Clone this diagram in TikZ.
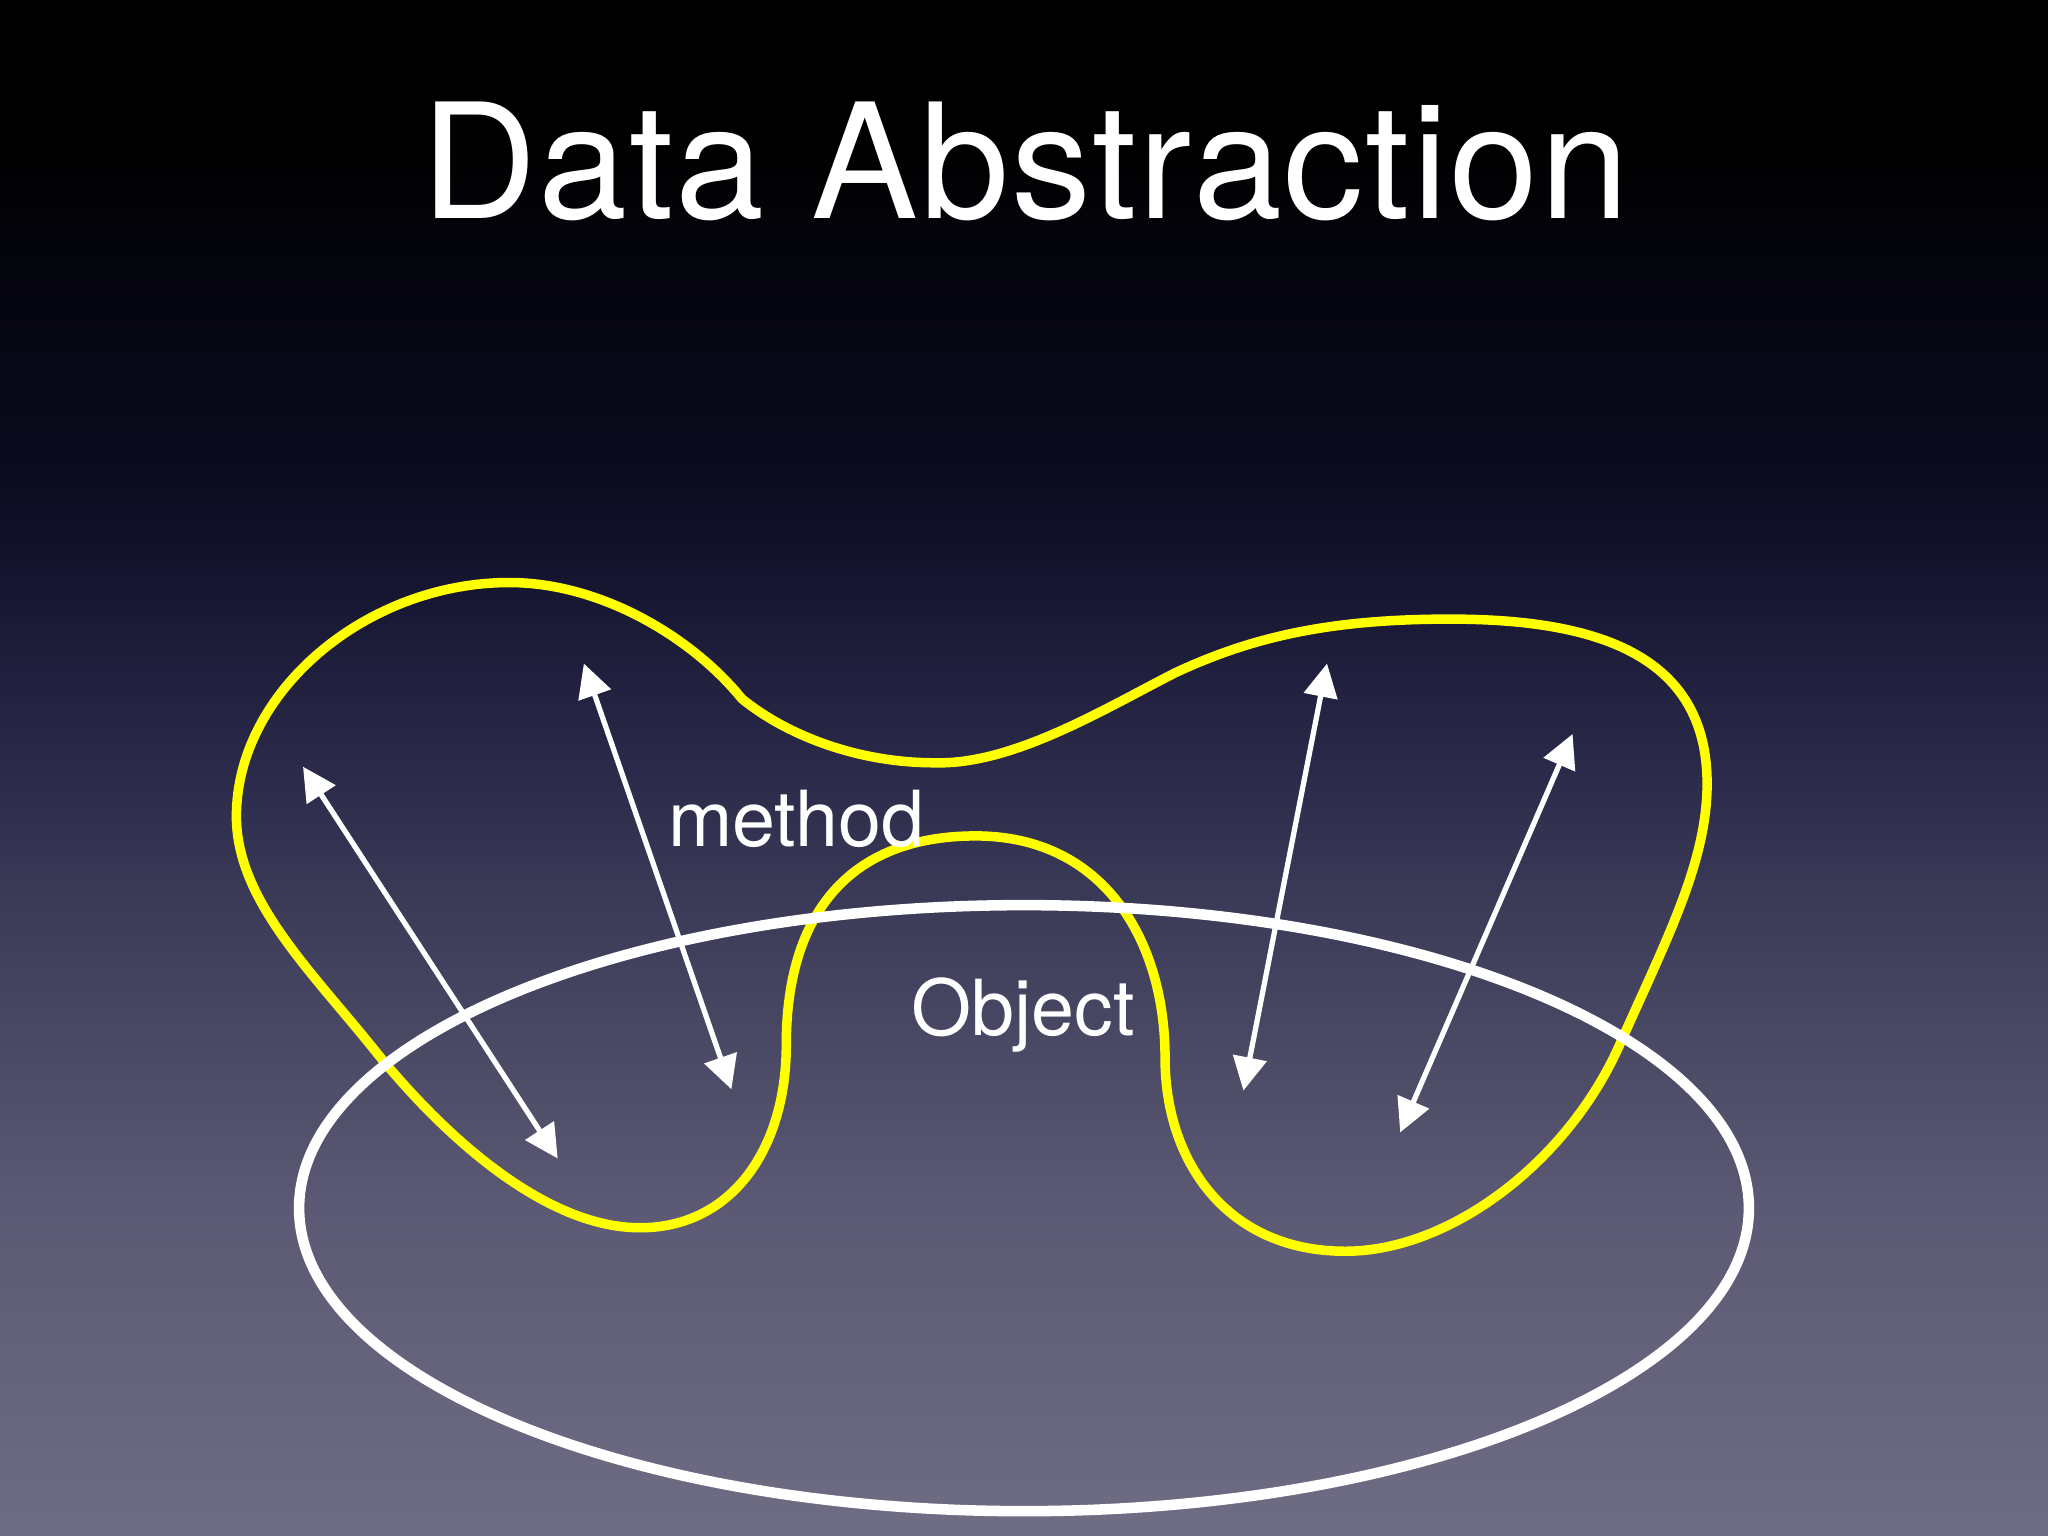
\documentclass[tikz,border=0pt]{standalone}
\usepackage{fontspec}
\setmainfont{TeX Gyre Heros}
\usetikzlibrary{arrows.meta}
\definecolor{bgA}{HTML}{6F6D84}
\definecolor{bgB}{HTML}{5C5A74}
\definecolor{bgC}{HTML}{43425E}
\definecolor{bgD}{HTML}{2B2A4A}
\definecolor{bgE}{HTML}{1A1936}
\definecolor{bgF}{HTML}{0B0A1E}
\definecolor{bgG}{HTML}{05050E}
\definecolor{bgH}{HTML}{000000}
\definecolor{blobyellow}{HTML}{FFFF00}
\pgfdeclareverticalshading{slidebg}{100bp}{color(0bp)=(bgA); color(25bp)=(bgA); color(35.29bp)=(bgB); color(43.42bp)=(bgC); color(49.93bp)=(bgD); color(54.82bp)=(bgE); color(59.70bp)=(bgF); color(66.21bp)=(bgG); color(70.5bp)=(bgH); color(75bp)=(bgH); color(100bp)=(bgH)}
\tikzset{
  titletext/.style={text=white, inner sep=0pt, font=\fontsize{45.5}{50}\selectfont\addfontfeature{LetterSpace=1.2}},
  labeltext/.style={text=white, inner sep=0pt, font=\fontsize{22}{26}\selectfont},
  blob/.style={draw=blobyellow, line width=2.7pt, line cap=round, line join=round},
  objline/.style={draw=white, line width=3pt},
  dblarrow/.style={draw=white, line width=1.5pt, {Triangle[length=9.5pt,width=9.5pt]}-{Triangle[length=9.5pt,width=9.5pt]}}
}
\begin{document}
\begin{tikzpicture}[x=0.01306cm, y=-0.01306cm]
\shade[shading=slidebg] (0,0) rectangle (1568,1176);
\useasboundingbox (0,0) rectangle (1568,1176);

% yellow blob (data abstraction boundary)
\draw[blob] (568,535)
  .. controls (530,488) and (460,446) .. (390,446)
  .. controls (280,446) and (181,530) .. (181,625)
  .. controls (181,690) and (240,745) .. (290,808)
  .. controls (345,875) and (420,940) .. (490,940)
  .. controls (560,940) and (602,880) .. (602,800)
  .. controls (602,700) and (650,640) .. (747,640)
  .. controls (845,640) and (892,720) .. (892,810)
  .. controls (892,890) and (940,958) .. (1030,958)
  .. controls (1110,958) and (1200,890) .. (1240,800)
  .. controls (1276,719) and (1307,660) .. (1307,600)
  .. controls (1307,500) and (1220,474) .. (1110,474)
  .. controls (1020,474) and (960,487) .. (900,515)
  .. controls (845,543) and (775,586) .. (715,584)
  .. controls (660,584) and (605,565) .. (568,535);

% object ellipse
\draw[objline] (784,925) ellipse [x radius=555, y radius=232];

% arrow end points
\coordinate (a1s) at (232,587);
\coordinate (a1e) at (427,887);
\coordinate (a2s) at (447,508);
\coordinate (a2e) at (560,834);
\coordinate (a3s) at (1016,508);
\coordinate (a3e) at (952,835);
\coordinate (a4s) at (1204,562);
\coordinate (a4e) at (1072,867);

\draw[dblarrow] (a1s) -- (a1e);
\draw[dblarrow] (a2s) -- (a2e);
\draw[dblarrow] (a3s) -- (a3e);
\draw[dblarrow] (a4s) -- (a4e);

% texts
\node[titletext, anchor=base] (title) at (785,167) {Data Abstraction};
\node[labeltext, anchor=base west] (method) at (511,648) {method};
\node[labeltext, anchor=base west] (object) at (697,793) {Object};
\end{tikzpicture}
\end{document}
